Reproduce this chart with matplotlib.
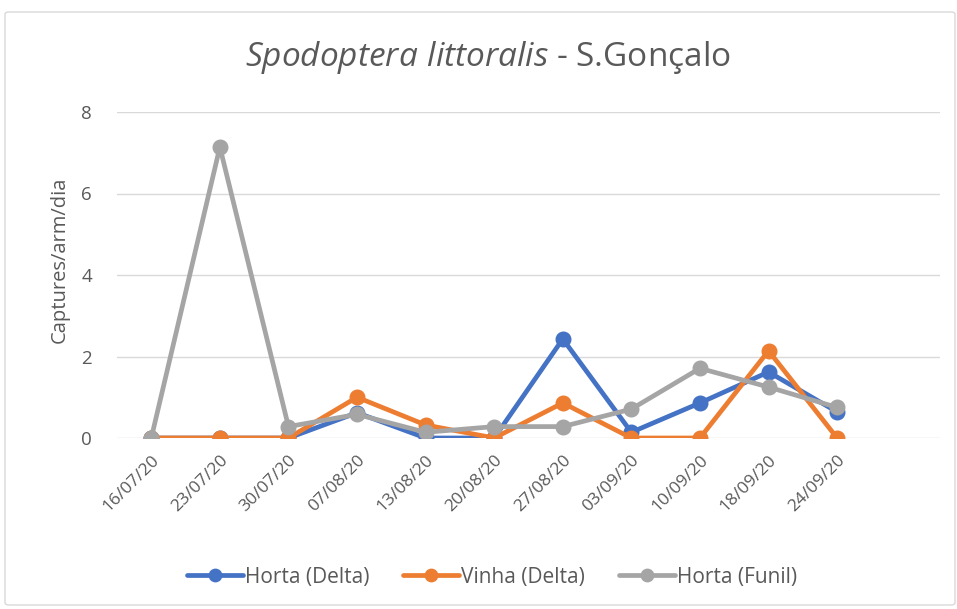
import matplotlib
matplotlib.use('Agg')
from matplotlib import pyplot as plt
from matplotlib.patches import FancyBboxPatch
import numpy as np

dates = ['16/07/20', '23/07/20', '30/07/20', '07/08/20', '13/08/20', '20/08/20',
         '27/08/20', '03/09/20', '10/09/20', '18/09/20', '24/09/20']
horta_delta = [0, 0, 0, 0.62, 0, 0, 2.43, 0.14, 0.86, 1.62, 0.64]
vinha_delta = [0, 0, 0, 1.0, 0.32, 0, 0.86, 0, 0, 2.14, 0]
horta_funil = [0, 7.14, 0.28, 0.58, 0.14, 0.28, 0.28, 0.71, 1.71, 1.25, 0.75]

series = [('Horta (Delta)', horta_delta, '#4472C4'),
          ('Vinha (Delta)', vinha_delta, '#ED7D31'),
          ('Horta (Funil)', horta_funil, '#A5A5A5')]

plt.rcParams['font.family'] = ['Open Sans', 'DejaVu Sans']
plt.rcParams['mathtext.fontset'] = 'custom'
plt.rcParams['mathtext.it'] = 'Open Sans:italic'
plt.rcParams['mathtext.rm'] = 'Open Sans'

txt = '#595959'
fig = plt.figure(figsize=(9.57, 6.09), dpi=100)
fig.patches.append(FancyBboxPatch((5 / 957, 1 - 605 / 609), 950 / 957, 593 / 609,
                                  boxstyle='round,pad=0,rounding_size=0.004',
                                  transform=fig.transFigure, fill=False,
                                  edgecolor='#D9D9D9', linewidth=1))
ax = fig.add_axes([117 / 957, 1 - 438 / 609, 823 / 957, 326 / 609])

x = np.arange(len(dates))
for name, vals, col in series:
    ax.plot(x, vals, color=col, linewidth=3.4, marker='o', markersize=10.5,
            label=name, solid_capstyle='round')

# one empty category slot on the right, as in the original
ax.set_xlim(-0.5, len(dates) + 0.5)
ax.set_ylim(0, 8)
ax.set_yticks([0, 2, 4, 6, 8])
ax.set_xticks(x)
ax.set_xticklabels(dates, rotation=45, ha='right', rotation_mode='anchor')
ax.tick_params(axis='both', length=0, colors=txt)
ax.tick_params(axis='x', pad=10, labelsize=12.5)
ax.tick_params(axis='y', pad=18, labelsize=13.5)
ax.grid(axis='y', color='#D9D9D9', linewidth=1)
ax.set_axisbelow(True)
for s in ax.spines.values():
    s.set_visible(False)

fig.text(60 / 957, 1 - 260 / 609, 'Captures/arm/dia', rotation=90,
         ha='center', va='center', fontsize=14.5, color=txt)
fig.text(488 / 957, 1 - 57 / 609, r'$\mathit{Spodoptera\ littoralis}$ - S.Gonçalo',
         ha='center', va='center', fontsize=24, color=txt)

fig.legend(loc='center', bbox_to_anchor=(492 / 957, 1 - 577 / 609), ncol=3,
           frameon=False, fontsize=15, labelcolor=txt, handlelength=2.7,
           columnspacing=1.6, handletextpad=0.1, markerscale=0.85)

fig.savefig('out.png', dpi=100)
